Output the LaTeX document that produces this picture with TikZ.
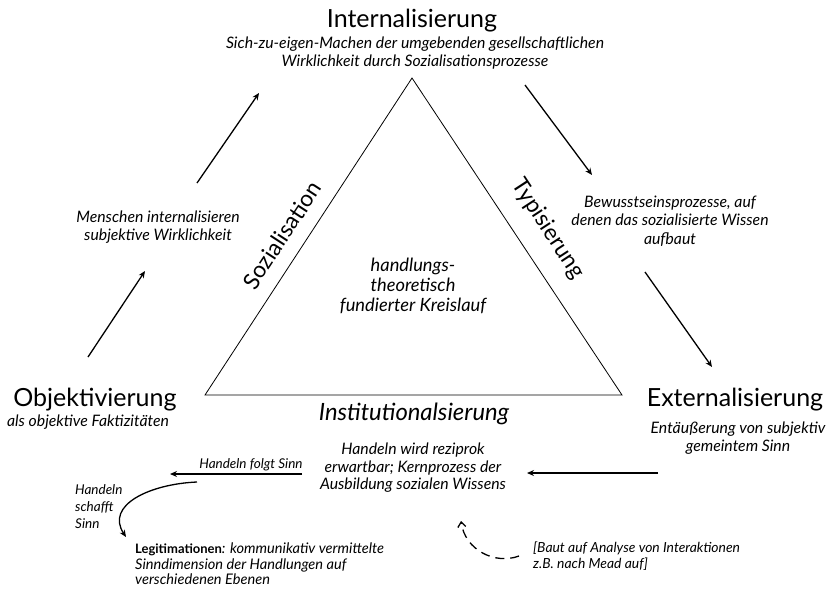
\documentclass[tikz,border=0pt]{standalone}
\usepackage{fontspec}
\setmainfont{Lato}
\usetikzlibrary{arrows.meta}
\begin{document}
\begin{tikzpicture}[x=1pt,y=-1pt,
  title/.style={font=\fontsize{25}{28}\selectfont, inner sep=0pt, anchor=base},
  sub/.style={font=\fontsize{15.8}{17.5}\selectfont\itshape, align=center, inner sep=0pt},
  note/.style={font=\fontsize{15.8}{18.5}\selectfont\itshape, align=center, inner sep=0pt},
  small/.style={font=\fontsize{13.5}{17}\selectfont\itshape, inner sep=0pt},
  side/.style={font=\fontsize{22.7}{26}\selectfont, inner sep=0pt},
  arr/.style={line width=1.3pt, -{Stealth[length=7pt,width=6pt]}},
  tri/.style={line width=0.8pt, line join=miter}]
\useasboundingbox (0,0) rectangle (832,590);
% triangle
\coordinate (A) at (412,78);
\coordinate (B) at (205,395);
\coordinate (C) at (622,395);
\draw[tri] (A) -- (B) -- (C) -- cycle;
% titles
\node[title] (int) at (412,27) {Internalisierung};
\node[sub] (intsub) at (415,53) {Sich-zu-eigen-Machen der umgebenden gesellschaftlichen\\Wirklichkeit durch Sozialisationsprozesse};
\node[title] (obj) at (95,406) {Objektivierung};
\node[sub] (objsub) at (88,422) {als objektive Faktizitäten};
\node[title] (ext) at (735,406) {Externalisierung};
\node[sub] (extsub) at (738,438) {Entäußerung von subjektiv\\gemeintem Sinn};
\node[font=\fontsize{23.8}{26}\selectfont\itshape, inner sep=0pt] (inst) at (414,414) {Institutionalsierung};
\node[sub] (instsub) at (413,468) {Handeln wird reziprok\\erwartbar; Kernprozess der\\Ausbildung sozialen Wissens};
% side labels
\node[side, rotate=56.85] (soz) at (282,235) {Sozialisation};
\node[side, rotate=-56.85] (typ) at (548,229) {Typisierung};
% center
\node[font=\fontsize{18.3}{20}\selectfont\itshape, align=center, inner sep=0pt] (kreis) at (413,286) {handlungs-\\theoretisch\\fundierter Kreislauf};
% notes
\node[note] (mensch) at (158,227) {Menschen internalisieren\\subjektive Wirklichkeit};
\node[note] (bewusst) at (670,221) {Bewusstseinsprozesse, auf\\denen das sozialisierte Wissen\\aufbaut};
% arrows
\coordinate (a1s) at (88,357); \coordinate (a1e) at (145,271);
\coordinate (a2s) at (197,183); \coordinate (a2e) at (259,93);
\coordinate (a3s) at (525,85); \coordinate (a3e) at (592,175);
\coordinate (a4s) at (645,272); \coordinate (a4e) at (712,367);
\coordinate (a5s) at (658,473); \coordinate (a5e) at (527,473);
\coordinate (a6s) at (302,474); \coordinate (a6e) at (170,474);
\draw[arr] (a1s) -- (a1e);
\draw[arr] (a2s) -- (a2e);
\draw[arr] (a3s) -- (a3e);
\draw[arr] (a4s) -- (a4e);
\draw[arr] (a5s) -- (a5e);
\draw[arr] (a6s) -- (a6e);
\node[small, anchor=base] (folgt) at (251,468) {Handeln folgt Sinn};
% curved arrow
\coordinate (cs) at (197,482); \coordinate (ce) at (126,537);
\draw[arr] (cs) .. controls (150,484) and (105,505) .. (ce);
\node[small, align=left, anchor=north west] (schafft) at (75,484) {Handeln\\schafft\\Sinn};
\node[font=\fontsize{14.6}{15.5}\selectfont\itshape, inner sep=0pt, align=left, anchor=north west] (legit) at (135,543) {{\fontsize{13}{15.5}\selectfont\bfseries\upshape Legitimationen}: kommunikativ vermittelte\\Sinndimension der Handlungen auf\\verschiedenen Ebenen};
% dashed arrow
\coordinate (ds) at (519,556); \coordinate (de) at (461,521);
\draw[line width=1.3pt, dash pattern=on 9pt off 6pt, -{Straight Barb[length=5pt,width=8pt]}] (ds) .. controls (495,565) and (465,550) .. (de);
\node[font=\fontsize{13.9}{16}\selectfont\itshape, inner sep=0pt, align=left, anchor=north west] (baut) at (533,542) {[Baut auf Analyse von Interaktionen\\z.B. nach Mead auf]};
\end{tikzpicture}
\end{document}
